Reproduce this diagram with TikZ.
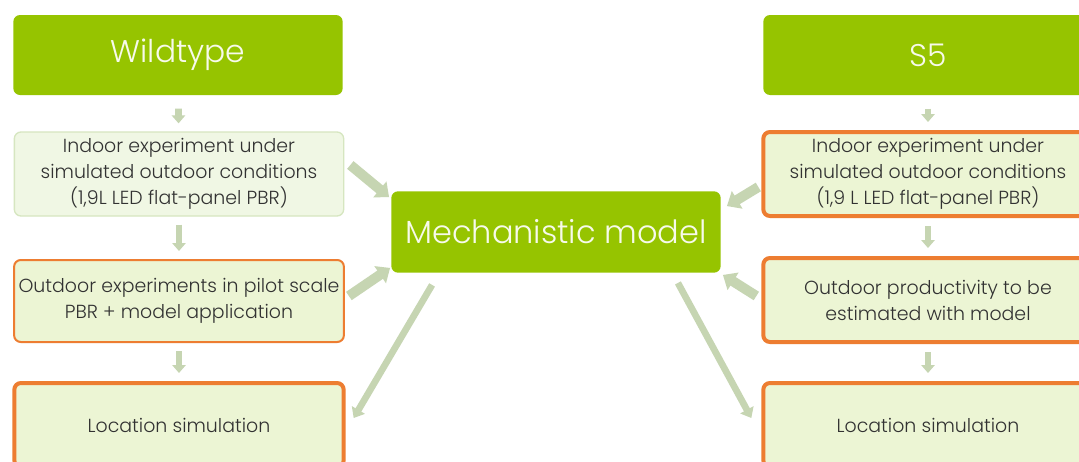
\documentclass[tikz,border=0pt]{standalone}
\usepackage{fontspec}
\setmainfont{Poppins Light}
\usetikzlibrary{arrows.meta,calc}
\definecolor{leafgreen}{RGB}{150,196,0}
\definecolor{palefill}{RGB}{236,245,212}
\definecolor{palefillb}{RGB}{240,247,228}
\definecolor{paleedge}{RGB}{214,230,192}
\definecolor{burntorange}{RGB}{237,125,49}
\definecolor{sagearrow}{RGB}{198,213,178}
\definecolor{inkgray}{RGB}{50,50,50}

\begin{document}
\begin{tikzpicture}[x=0.75pt, y=-0.75pt,
    header/.style={fill=leafgreen, rounded corners=5pt, text=white!92!leafgreen, minimum width=247pt, minimum height=60pt, font=\fontsize{23.5}{26}\selectfont},
    stagebox/.style={fill=palefill, rounded corners=5pt, text=inkgray, minimum width=247pt, minimum height=63pt, align=center, font=\fontsize{14.2}{19.5}\selectfont},
    steparrow/.style={draw=sagearrow, line width=5pt, -{Triangle[width=10pt,length=6pt]}, shorten <=6pt, shorten >=6pt},
    feedarrow/.style={draw=sagearrow, line width=7.5pt, -{Triangle[width=15pt,length=9pt]}},
    longarrow/.style={draw=sagearrow, line width=5pt, -{Triangle[width=11pt,length=7pt]}}]
    \useasboundingbox (0,0) rectangle (1079,461);
    \clip (0,0) rectangle (1079,461);
    \fill[white] (0,0) rectangle (1079,461);

    \node[header] (wild) at (178,55) {Wildtype};
    \node[stagebox, fill=palefillb, draw=paleedge, line width=1pt] (lin) at (179,174) {Indoor experiment under\\simulated outdoor conditions\\(1,9L LED flat-panel PBR)};
    \node[stagebox, draw=burntorange, line width=1.5pt, minimum height=61.5pt] (lout) at (179,301) {Outdoor experiments in pilot scale\\PBR + model application};
    \node[stagebox, draw=burntorange, line width=3pt] (lloc) at (179,425) {Location simulation};

    \node[header] (sfive) at (928,55) {S5};
    \node[stagebox, draw=burntorange, line width=3pt] (rin) at (928,174) {Indoor experiment under\\simulated outdoor conditions\\(1,9 L LED flat-panel PBR)};
    \node[stagebox, draw=burntorange, line width=3pt] (rout) at (928,300) {Outdoor productivity to be\\estimated with model};
    \node[stagebox, draw=burntorange, line width=3pt] (rloc) at (928,425) {Location simulation};

    \node[header, minimum height=61pt, font=\fontsize{24}{28}\selectfont] (model) at (556,232) {Mechanistic model};

    \draw[steparrow, shorten <=10pt] (wild) -- (lin);
    \draw[steparrow] (lin) -- (lout);
    \draw[steparrow] (lout) -- (lloc);
    \draw[steparrow, shorten <=10pt] (sfive) -- (rin);
    \draw[steparrow] (rin) -- (rout);
    \draw[steparrow] (rout) -- (rloc);

    \draw[feedarrow] ($(lin.east)+(6,-9)$) -- ($(model.north west)+(-2,6)$);
    \draw[feedarrow] ($(lout.east)+(4,-5)$) -- ($(model.south west)+(-1,-5)$);
    \draw[feedarrow] ($(rin.west)+(-3,13)$) -- ($(model.north east)+(6,15)$);
    \draw[feedarrow] ($(rout.west)+(-5,-4)$) -- ($(model.south east)+(2,2)$);
    \draw[longarrow] ($(model.south west)+(41,12)$) -- ($(lloc.east)+(8,-7)$);
    \draw[longarrow] ($(model.south east)+(-43,10)$) -- ($(rloc.west)+(-10,-7)$);
\end{tikzpicture}
\end{document}
